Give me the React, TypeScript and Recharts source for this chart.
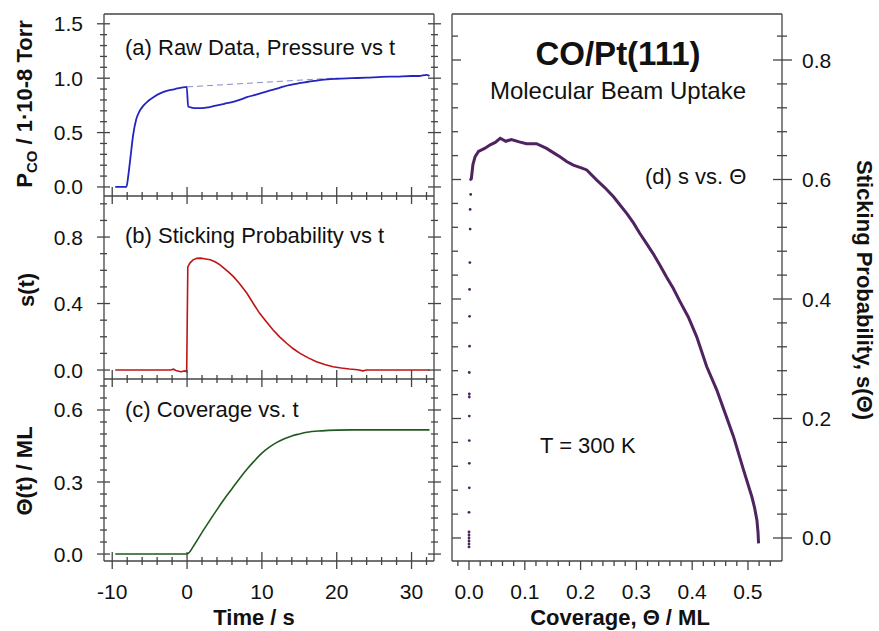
import React from 'react';
import { ComposedChart, Line, Scatter, XAxis, YAxis } from 'recharts';

// CO/Pt(111) molecular beam uptake: three time panels on the left, s(Θ) on the right.

const W = 879;
const H = 631;
const FONT = '"Liberation Sans", Arial, Helvetica, sans-serif';
const FRAME = '#444444';
const INK = '#111111';

// (a) raw pressure trace, P_CO / 1e-8 Torr vs time / s
const PRESS_T = [-9.6, -8.1, -7.9, -7.6, -7.2, -6.8, -6.4, -5.8, -5.2, -4.4, -3.6, -2.6, -1.6, -0.6, -0.05, 0.15, 0.6, 1.2, 2.0, 3.0, 4.0, 5.0, 6.0, 7.0, 8.0, 9.0, 10, 11, 12, 13, 14, 15, 16, 17, 18, 20, 22, 24, 26, 28, 30, 31, 32, 32.4];
const PRESS_P = [0, 0, 0.08, 0.25, 0.48, 0.62, 0.69, 0.75, 0.79, 0.83, 0.86, 0.885, 0.9, 0.915, 0.92, 0.74, 0.73, 0.725, 0.725, 0.735, 0.75, 0.765, 0.78, 0.8, 0.825, 0.845, 0.865, 0.885, 0.905, 0.925, 0.94, 0.955, 0.965, 0.975, 0.985, 0.995, 1.0, 1.005, 1.012, 1.015, 1.02, 1.02, 1.03, 1.02];
// dashed baseline (no adsorption)
const BASE_T = [0, 19.5];
const BASE_P = [0.92, 1.0];

// (b) sticking probability vs t
const STICK_T = [-9.6, -2.2, -1.8, -1.4, -0.8, -0.3, -0.05, 0.1, 0.4, 0.8, 1.3, 1.8, 2.5, 3.1, 3.8, 4.4, 5.0, 5.6, 6.2, 7.0, 8.0, 9.0, 9.7, 10.6, 11.5, 12.4, 13.3, 14.2, 15.1, 16.2, 17.3, 18.4, 19.5, 20.6, 21.7, 22.8, 23.5, 24, 32.4];
const STICK_S = [0, 0, 0.005, -0.005, -0.01, -0.005, -0.01, 0.62, 0.645, 0.663, 0.672, 0.673, 0.668, 0.663, 0.65, 0.633, 0.61, 0.587, 0.562, 0.52, 0.462, 0.39, 0.341, 0.29, 0.241, 0.198, 0.161, 0.128, 0.1, 0.073, 0.05, 0.033, 0.02, 0.012, 0.006, 0.002, -0.005, 0, 0];

// (c) coverage vs t
const COV_T = [-9.6, 0, 1, 2, 3, 4, 5, 6, 7, 8, 9, 10, 11, 12, 13, 14, 15, 16, 18, 20, 22, 32.4];
const COV_TH = [0, 0, 0.04, 0.09, 0.138, 0.185, 0.23, 0.272, 0.314, 0.353, 0.388, 0.42, 0.445, 0.465, 0.48, 0.492, 0.5, 0.507, 0.513, 0.516, 0.517, 0.517];

// (d) s vs Θ, main curve
const SD_TH = [0.004, 0.007, 0.0108, 0.017, 0.028, 0.038, 0.047, 0.056, 0.066, 0.076, 0.09, 0.103, 0.121, 0.139, 0.151, 0.163, 0.175, 0.187, 0.2, 0.211, 0.229, 0.245, 0.259, 0.271, 0.283, 0.295, 0.306, 0.318, 0.33, 0.342, 0.354, 0.366, 0.378, 0.393, 0.408, 0.426, 0.444, 0.459, 0.474, 0.483, 0.492, 0.5, 0.507, 0.512, 0.516, 0.518, 0.519];
const SD_S = [0.6, 0.625, 0.638, 0.647, 0.652, 0.658, 0.662, 0.669, 0.664, 0.667, 0.663, 0.66, 0.66, 0.652, 0.645, 0.638, 0.63, 0.624, 0.62, 0.616, 0.599, 0.585, 0.571, 0.557, 0.543, 0.527, 0.51, 0.493, 0.476, 0.457, 0.437, 0.418, 0.396, 0.37, 0.337, 0.287, 0.248, 0.209, 0.17, 0.142, 0.114, 0.09, 0.069, 0.05, 0.03, 0.01, -0.009];
// (d) sparse points during the beam rise (Θ ≈ 0)
const SD0_TH = [0, 0, 0, 0, 0, 0, 0, 0.0005, 0.0005, 0.0005, 0.0005, 0.0005, 0.0005, 0.0005, 0.001, 0.001, 0.001, 0.0015, 0.002, 0.002, 0.003, 0.003];
const SD0_S = [-0.015, -0.01, -0.005, 0, 0.005, 0.01, 0.043, 0.084, 0.125, 0.163, 0.204, 0.236, 0.241, 0.277, 0.321, 0.371, 0.416, 0.461, 0.517, 0.55, 0.575, 0.6];

// ticks
const TIME_MAJOR = [-10, 0, 10, 20, 30];
const TIME_TICKS = [-10, -8, -6, -4, -2, 0, 2, 4, 6, 8, 10, 12, 14, 16, 18, 20, 22, 24, 26, 28, 30, 32];
const PA_MAJOR = [0, 0.5, 1.0, 1.5];
const PA_TICKS = [0, 0.1, 0.2, 0.3, 0.4, 0.5, 0.6, 0.7, 0.8, 0.9, 1.0, 1.1, 1.2, 1.3, 1.4, 1.5];
const SB_MAJOR = [0, 0.4, 0.8];
const SB_TICKS = [0, 0.1, 0.2, 0.3, 0.4, 0.5, 0.6, 0.7, 0.8, 0.9, 1.0];
const CC_MAJOR = [0, 0.3, 0.6];
const CC_TICKS = [0, 0.05, 0.1, 0.15, 0.2, 0.25, 0.3, 0.35, 0.4, 0.45, 0.5, 0.55, 0.6, 0.65, 0.7];
const TH_MAJOR = [0, 0.1, 0.2, 0.3, 0.4, 0.5];
const TH_TICKS = [-0.02, 0, 0.02, 0.04, 0.06, 0.08, 0.1, 0.12, 0.14, 0.16, 0.18, 0.2, 0.22, 0.24, 0.26, 0.28, 0.3, 0.32, 0.34, 0.36, 0.38, 0.4, 0.42, 0.44, 0.46, 0.48, 0.5, 0.52, 0.54];
const SD_MAJOR = [0, 0.2, 0.4, 0.6, 0.8];
const SD_TICKS = [0, 0.04, 0.08, 0.12, 0.16, 0.2, 0.24, 0.28, 0.32, 0.36, 0.4, 0.44, 0.48, 0.52, 0.56, 0.6, 0.64, 0.68, 0.72, 0.76, 0.8, 0.84];

const zip = (xs: number[], ys: number[], kx: string, ky: string) =>
  xs.map((x, i) => ({ [kx]: x, [ky]: ys[i] }));

const pressData = zip(PRESS_T, PRESS_P, 't', 'v');
const baseData = zip(BASE_T, BASE_P, 't', 'v');
const stickData = zip(STICK_T, STICK_S, 't', 'v');
const covData = zip(COV_T, COV_TH, 't', 'v');
const sdData = zip(SD_TH, SD_S, 'th', 's');
const sd0Data = zip(SD0_TH, SD0_S, 'th', 's');

type TickCfg = {
  side: 'left' | 'right' | 'bottom';
  major: number[];
  majOut: number;
  majIn: number;
  minOut: number;
  minIn: number;
  gap?: number;
  digits?: number;
};

function makeTick(c: TickCfg) {
  return (props: any) => {
    const { x, y, payload } = props;
    const v = Number(payload.value);
    const isMaj = c.major.some((m) => Math.abs(m - v) < 1e-6);
    const out = isMaj ? c.majOut : c.minOut;
    const inn = isMaj ? c.majIn : c.minIn;
    const txt = c.digits === undefined ? String(v) : v.toFixed(c.digits);
    const showLabel = isMaj && c.gap !== undefined;
    const tStyle = { fontFamily: FONT, fontSize: 21, fill: INK };
    if (c.side === 'left') {
      return (
        <g>
          <line x1={x - out} x2={x + inn} y1={y} y2={y} stroke={FRAME} strokeWidth={1.3} />
          {showLabel && (
            <text x={x - (c.gap as number)} y={y + 7.5} textAnchor="end" style={tStyle}>
              {txt}
            </text>
          )}
        </g>
      );
    }
    if (c.side === 'right') {
      return (
        <g>
          <line x1={x - inn} x2={x + out} y1={y} y2={y} stroke={FRAME} strokeWidth={1.3} />
          {showLabel && (
            <text x={x + (c.gap as number)} y={y + 7.5} textAnchor="start" style={tStyle}>
              {txt}
            </text>
          )}
        </g>
      );
    }
    return (
      <g>
        <line x1={x} x2={x} y1={y - inn} y2={y + out} stroke={FRAME} strokeWidth={1.3} />
        {showLabel && (
          <text x={x} y={y + (c.gap as number)} textAnchor="middle" style={tStyle}>
            {txt}
          </text>
        )}
      </g>
    );
  };
}

const axisLine = { stroke: FRAME, strokeWidth: 1.3 };
const TIME_DOMAIN: [number, number] = [-11.1, 33];

function LeftPanel(props: {
  top: number;
  bottom: number;
  domain: [number, number];
  ticks: number[];
  major: number[];
  showTimeLabels: boolean;
  withTop: boolean;
  children: React.ReactNode;
}) {
  const { top, bottom, domain, ticks, major, showTimeLabels, withTop } = props;
  return (
    <div style={{ position: 'absolute', left: 0, top: 0 }}>
      <ComposedChart
        width={W}
        height={H}
        margin={{ top: withTop ? top - 4 : top, left: 84, right: 425, bottom: H - bottom - 20 }}
      >
        <XAxis
          xAxisId="b"
          type="number"
          dataKey="t"
          domain={TIME_DOMAIN}
          ticks={TIME_TICKS}
          interval={0}
          allowDataOverflow
          height={20}
          tickSize={0}
          tickMargin={0}
          tickLine={false}
          axisLine={axisLine}
          tick={makeTick({ side: 'bottom', major: TIME_MAJOR, majOut: 8, majIn: 9, minOut: 4, minIn: 4, gap: showTimeLabels ? 38 : undefined })}
        />
        {withTop && (
          <XAxis
            xAxisId="t"
            orientation="top"
            type="number"
            dataKey="t"
            domain={TIME_DOMAIN}
            allowDataOverflow
            height={4}
            tick={false}
            tickLine={false}
            axisLine={axisLine}
          />
        )}
        <YAxis
          yAxisId="l"
          type="number"
          domain={domain}
          ticks={ticks}
          interval={0}
          allowDataOverflow
          width={20}
          tickSize={0}
          tickMargin={0}
          tickLine={false}
          axisLine={axisLine}
          tick={makeTick({ side: 'left', major, majOut: 7, majIn: 6, minOut: 4, minIn: 3, gap: 21, digits: 1 })}
        />
        <YAxis
          yAxisId="r"
          orientation="right"
          type="number"
          domain={domain}
          ticks={ticks}
          interval={0}
          allowDataOverflow
          width={20}
          tickSize={0}
          tickMargin={0}
          tickLine={false}
          axisLine={axisLine}
          tick={makeTick({ side: 'right', major, majOut: 7, majIn: 6, minOut: 4, minIn: 3 })}
        />
        {props.children}
      </ComposedChart>
    </div>
  );
}

function PanelD() {
  const domain: [number, number] = [-0.0385, 0.877];
  const thDomain: [number, number] = [-0.0305, 0.561];
  return (
    <div style={{ position: 'absolute', left: 0, top: 0 }}>
      <ComposedChart width={W} height={H} margin={{ top: 10, left: 432, right: 77, bottom: 50 }}>
        <XAxis
          xAxisId="b"
          type="number"
          dataKey="th"
          domain={thDomain}
          ticks={TH_TICKS}
          interval={0}
          allowDataOverflow
          height={20}
          tickSize={0}
          tickMargin={0}
          tickLine={false}
          axisLine={axisLine}
          tick={makeTick({ side: 'bottom', major: TH_MAJOR, majOut: 9, majIn: 0, minOut: 5, minIn: 0, gap: 38, digits: 1 })}
        />
        <XAxis
          xAxisId="t"
          orientation="top"
          type="number"
          dataKey="th"
          domain={thDomain}
          allowDataOverflow
          height={4}
          tick={false}
          tickLine={false}
          axisLine={axisLine}
        />
        <YAxis
          yAxisId="l"
          type="number"
          domain={domain}
          ticks={SD_TICKS}
          interval={0}
          allowDataOverflow
          width={20}
          tickSize={0}
          tickMargin={0}
          tickLine={false}
          axisLine={axisLine}
          tick={makeTick({ side: 'left', major: SD_MAJOR, majOut: 0, majIn: 9, minOut: 0, minIn: 6 })}
        />
        <YAxis
          yAxisId="r"
          orientation="right"
          type="number"
          domain={domain}
          ticks={SD_TICKS}
          interval={0}
          allowDataOverflow
          width={20}
          tickSize={0}
          tickMargin={0}
          tickLine={false}
          axisLine={axisLine}
          tick={makeTick({ side: 'right', major: SD_MAJOR, majOut: 10, majIn: 9, minOut: 5, minIn: 5, gap: 20, digits: 1 })}
        />
        <Scatter
          xAxisId="b"
          yAxisId="r"
          data={sd0Data}
          dataKey="s"
          fill="#4f2360"
          shape={(p: any) => <circle cx={p.cx} cy={p.cy} r={1.4} fill="#4f2360" />}
          isAnimationActive={false}
        />
        <Line
          xAxisId="b"
          yAxisId="r"
          data={sdData}
          dataKey="s"
          type="linear"
          stroke="#4f2360"
          strokeWidth={3}
          dot={false}
          isAnimationActive={false}
        />
      </ComposedChart>
    </div>
  );
}

export default function App() {
  const ts = { fontFamily: FONT, fill: INK };
  return (
    <div style={{ position: 'absolute', left: 0, top: 0, width: W, height: H, background: '#fff' }}>
      <LeftPanel top={14} bottom={196} domain={[-0.083, 1.59]} ticks={PA_TICKS} major={PA_MAJOR} showTimeLabels={false} withTop>
        <Line xAxisId="b" yAxisId="l" data={baseData} dataKey="v" type="linear" stroke="#8a8ad0" strokeWidth={1} strokeDasharray="6 4" dot={false} isAnimationActive={false} />
        <Line xAxisId="b" yAxisId="l" data={pressData} dataKey="v" type="monotone" stroke="#2424c0" strokeWidth={1.8} dot={false} isAnimationActive={false} />
      </LeftPanel>
      <LeftPanel top={196} bottom={379} domain={[-0.054, 1.047]} ticks={SB_TICKS} major={SB_MAJOR} showTimeLabels={false} withTop={false}>
        <Line xAxisId="b" yAxisId="l" data={stickData} dataKey="v" type="linear" stroke="#c01414" strokeWidth={1.6} dot={false} isAnimationActive={false} />
      </LeftPanel>
      <LeftPanel top={379} bottom={561} domain={[-0.029, 0.729]} ticks={CC_TICKS} major={CC_MAJOR} showTimeLabels withTop={false}>
        <Line xAxisId="b" yAxisId="l" data={covData} dataKey="v" type="monotone" stroke="#1f5a1f" strokeWidth={1.6} dot={false} isAnimationActive={false} />
      </LeftPanel>
      <PanelD />
      <svg width={W} height={H} style={{ position: 'absolute', left: 0, top: 0, pointerEvents: 'none' }}>
        <text x={125} y={55} fontSize={22} style={ts}>(a) Raw Data, Pressure vs t</text>
        <text x={125} y={243} fontSize={22} style={ts}>(b) Sticking Probability vs t</text>
        <text x={125} y={417} fontSize={22} style={ts}>(c) Coverage vs. t</text>
        <text x={618} y={65} fontSize={33} fontWeight="bold" textAnchor="middle" style={ts}>CO/Pt(111)</text>
        <text x={618} y={99} fontSize={24} textAnchor="middle" style={ts}>Molecular Beam Uptake</text>
        <text x={645} y={184} fontSize={22} style={ts}>(d) s vs. Θ</text>
        <text x={540} y={453} fontSize={22} style={ts}>T = 300 K</text>
        <text x={254} y={625} fontSize={22} fontWeight="bold" textAnchor="middle" style={ts}>Time / s</text>
        <text x={620} y={625} fontSize={22} fontWeight="bold" textAnchor="middle" style={ts}>Coverage, Θ / ML</text>
        <text transform="translate(32,104) rotate(-90)" fontSize={22} fontWeight="bold" textAnchor="middle" style={ts}>
          P<tspan fontSize={15} dy={5}>CO</tspan>
          <tspan dy={-5}> / 1·10-8 Torr</tspan>
        </text>
        <text transform="translate(34,290) rotate(-90)" fontSize={22} fontWeight="bold" textAnchor="middle" style={ts}>s(t)</text>
        <text transform="translate(32,471) rotate(-90)" fontSize={22} fontWeight="bold" textAnchor="middle" style={ts}>Θ(t) / ML</text>
        <text transform="translate(857,290) rotate(90)" fontSize={22} fontWeight="bold" textAnchor="middle" style={ts}>Sticking Probability, s(Θ)</text>
      </svg>
    </div>
  );
}
